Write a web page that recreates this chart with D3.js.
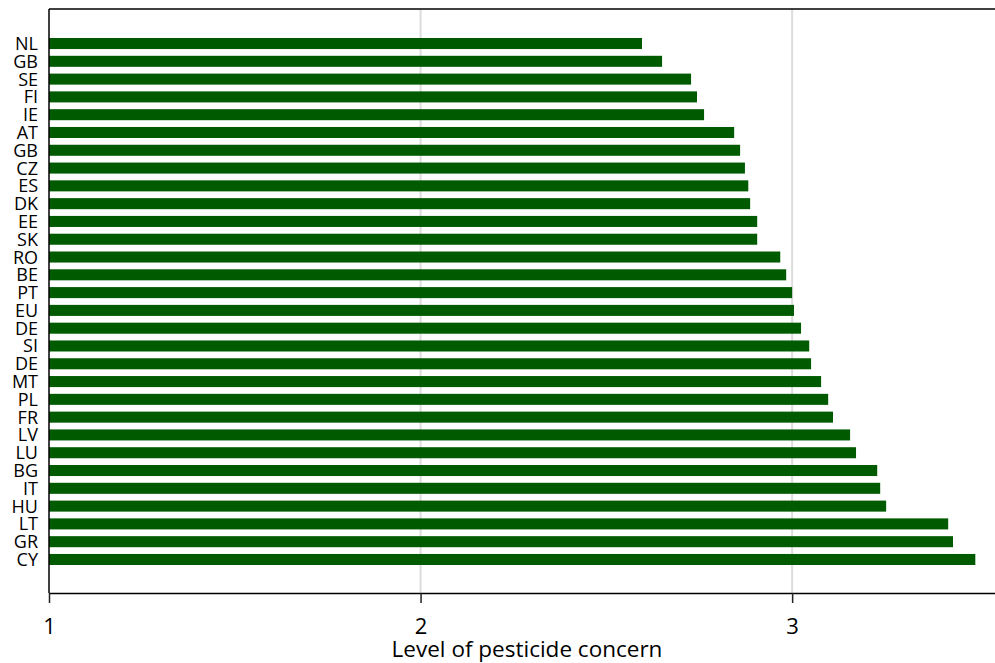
<!DOCTYPE html>
<html>
<head>
<meta charset="utf-8">
<script src="https://cdn.jsdelivr.net/npm/d3@7"></script>
<style>
  body { margin: 0; background: #fff; }
  svg { display: block; font-family: "Open Sans", sans-serif; }
</style>
</head>
<body>
<svg id="chart" width="995" height="663"></svg>
<script>
// country codes, top to bottom (GB and DE show up twice in the source)
const countries = ['NL','GB','SE','FI','IE','AT','GB','CZ','ES','DK','EE','SK','RO','BE','PT',
                   'EU','DE','SI','DE','MT','PL','FR','LV','LU','BG','IT','HU','LT','GR','CY'];
const concern = [2.596, 2.650, 2.728, 2.744, 2.763, 2.844, 2.860, 2.873, 2.882, 2.887, 2.906, 2.906,
                 2.968, 2.984, 3.000, 3.005, 3.024, 3.046, 3.051, 3.078, 3.097, 3.110, 3.156, 3.172,
                 3.229, 3.237, 3.253, 3.420, 3.433, 3.493];
const xTicks = [1, 2, 3];
const xTitle = 'Level of pesticide concern';

const svg = d3.select('#chart');
const m = { left: 49, right: 995, top: 9, bottom: 593 };

const x = d3.scaleLinear().domain([1, 3.546]).range([m.left, m.right]);
const y = d3.scaleBand()
  .domain(d3.range(countries.length))
  .range([26, 577])
  .paddingInner(0.38)
  .paddingOuter(0.675);

// vertical grid
svg.append('g').selectAll('line')
  .data(xTicks.filter(d => d > 1))
  .join('line')
  .attr('x1', d => x(d)).attr('x2', d => x(d))
  .attr('y1', m.top).attr('y2', m.bottom)
  .attr('stroke', '#dcdcdc').attr('stroke-width', 2);

// bars
svg.append('g').selectAll('rect')
  .data(concern)
  .join('rect')
  .attr('x', x(1))
  .attr('y', (d, i) => y(i))
  .attr('width', d => x(d) - x(1))
  .attr('height', y.bandwidth())
  .attr('fill', '#005a00');

// frame: top + left + bottom
svg.append('line').attr('x1', m.left).attr('x2', m.right).attr('y1', m.top).attr('y2', m.top)
  .attr('stroke', '#000').attr('stroke-width', 1.5);
svg.append('line').attr('x1', m.left).attr('x2', m.left).attr('y1', m.top).attr('y2', m.bottom)
  .attr('stroke', '#000').attr('stroke-width', 1.5);

const xAxis = svg.append('g')
  .attr('transform', `translate(0,${m.bottom})`)
  .call(d3.axisBottom(x).tickValues(xTicks).tickFormat(d3.format('d'))
    .tickSize(10).tickSizeOuter(0).tickPadding(15));
xAxis.select('.domain').attr('stroke', '#000').attr('stroke-width', 1.5);
xAxis.selectAll('.tick line').attr('stroke', '#222').attr('stroke-width', 1.5);
xAxis.selectAll('.tick text').attr('font-size', 22).attr('font-family', '"Open Sans", sans-serif').attr('fill', '#000');

// country labels
svg.append('g').selectAll('text')
  .data(countries)
  .join('text')
  .attr('x', 38)
  .attr('y', (d, i) => y(i) + y.bandwidth() / 2)
  .attr('dy', '0.36em')
  .attr('text-anchor', 'end')
  .attr('font-size', 18)
  .attr('fill', '#000')
  .text(d => d);

svg.append('text')
  .attr('x', 527).attr('y', 657)
  .attr('text-anchor', 'middle')
  .attr('font-size', 22.5)
  .attr('fill', '#000')
  .text(xTitle);
</script>
</body>
</html>
